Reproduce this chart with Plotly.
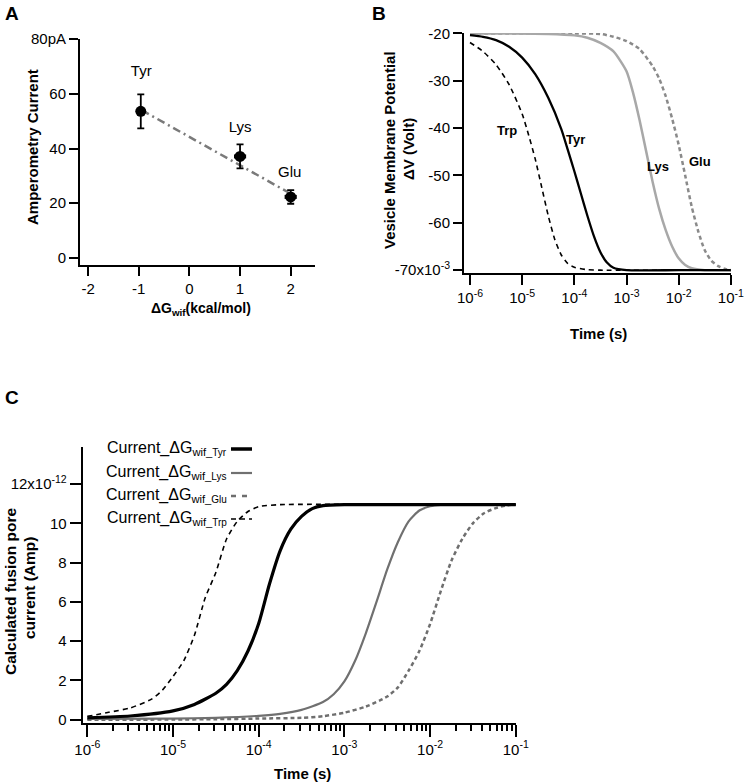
import plotly.graph_objects as go

W, H = 744, 784
FONT = "Arial, Liberation Sans, sans-serif"


def px(x):
    return x / W


def py(y):
    return 1 - y / H


# ---------------- Panel A data ----------------
amino = ["Tyr", "Lys", "Glu"]
dG = [-0.96, 1.0, 2.0]
amp = [53.6, 37.1, 22.3]
amp_err = [6.2, 4.4, 2.5]
dG_err = [0.0, 0.12, 0.12]
fit_x = [-0.94, 1.95]
fit_y = [54.0, 24.0]
label_x = [-0.95, 1.0, 1.98]
label_y = [68.0, 47.4, 31.1]

# ---------------- Panel B data (log10 time, potential x10^-3 V) ----------------
tyrB_logt = [-6.0, -5.75, -5.5, -5.25, -5.0, -4.75, -4.5, -4.25, -4.125, -4.0, -3.875, -3.75, -3.625, -3.5, -3.375, -3.25, -3.0, -2.0, -1.0]
tyrB_v = [-20.35, -20.7, -21.4, -22.8, -25.1, -28.6, -33.6, -40.2, -44.6, -49.1, -53.8, -58.5, -62.8, -66.2, -68.4, -69.5, -70.0, -70.0, -70.0]

trpB_logt = [-6.0, -5.75, -5.5, -5.25, -5.0, -4.875, -4.75, -4.625, -4.5, -4.375, -4.25, -4.125, -4.0, -3.75, -3.5, -2.0, -1.0]
trpB_v = [-21.9, -23.8, -26.6, -30.8, -37.0, -41.5, -46.5, -52.5, -58.5, -63.5, -66.8, -68.6, -69.4, -69.9, -70.0, -70.0, -70.0]

lysB_logt = [-6.0, -4.5, -4.0, -3.75, -3.5, -3.25, -3.0, -2.875, -2.75, -2.625, -2.5, -2.375, -2.25, -2.125, -2.0, -1.875, -1.75, -1.5, -1.0]
lysB_v = [-20.0, -20.1, -20.4, -20.9, -22.0, -23.8, -28.0, -32.5, -38.3, -44.8, -51.3, -57.0, -61.5, -65.0, -67.5, -68.9, -69.6, -70.0, -70.0]

gluB_logt = [-6.0, -4.0, -3.5, -3.25, -3.0, -2.75, -2.5, -2.375, -2.25, -2.125, -2.0, -1.875, -1.75, -1.625, -1.5, -1.375, -1.25, -1.125, -1.0]
gluB_v = [-20.0, -20.0, -20.1, -20.7, -21.6, -23.3, -26.9, -29.5, -33.2, -38.0, -43.5, -50.0, -56.6, -61.8, -65.8, -68.0, -69.1, -69.7, -70.0]

labelsB = ["Trp", "Tyr", "Lys", "Glu"]
labelsB_logx = [-5.30, -3.98, -2.39, -1.585]
labelsB_y = [-40.4, -42.5, -48.2, -47.1]

# ---------------- Panel C data (log10 time, current x10^-12 A) ----------------
tyrC_logt = [-6.0, -5.5, -5.0, -4.75, -4.5, -4.375, -4.25, -4.125, -4.0, -3.875, -3.75, -3.625, -3.5, -3.375, -3.25, -3.0, -2.0, -1.0]
tyrC_v = [0.10, 0.19, 0.45, 0.78, 1.35, 1.8, 2.5, 3.5, 4.9, 6.9, 8.6, 9.7, 10.35, 10.75, 10.9, 10.95, 10.95, 10.95]

trpC_logt = [-6.0, -5.75, -5.5, -5.25, -5.125, -5.0, -4.875, -4.75, -4.625, -4.5, -4.375, -4.25, -4.125, -4.0, -3.75, -2.0, -1.0]
trpC_v = [0.17, 0.38, 0.6, 1.05, 1.5, 2.2, 3.0, 4.3, 6.2, 7.5, 9.2, 10.1, 10.6, 10.85, 10.95, 10.95, 10.95]

lysC_logt = [-6.0, -5.0, -4.5, -4.0, -3.75, -3.5, -3.25, -3.125, -3.0, -2.875, -2.75, -2.625, -2.5, -2.375, -2.25, -2.125, -2.0, -1.875, -1.5, -1.0]
lysC_v = [0.04, 0.06, 0.1, 0.2, 0.3, 0.5, 0.9, 1.3, 1.95, 3.0, 4.4, 6.0, 7.65, 9.05, 10.1, 10.65, 10.87, 10.94, 10.95, 10.95]

gluC_logt = [-6.0, -5.0, -4.5, -4.0, -3.5, -3.25, -3.0, -2.75, -2.5, -2.375, -2.25, -2.125, -2.0, -1.875, -1.75, -1.625, -1.5, -1.375, -1.25, -1.125, -1.0]
gluC_v = [0.0, 0.01, 0.03, 0.06, 0.1, 0.18, 0.36, 0.67, 1.18, 1.65, 2.5, 3.5, 4.87, 6.55, 8.1, 9.2, 10.0, 10.5, 10.75, 10.9, 10.96]

legend_names = ["Tyr", "Lys", "Glu", "Trp"]

fig = go.Figure()

# ---------- Panel A traces ----------
fig.add_trace(go.Scatter(
    x=fit_x, y=fit_y, mode="lines", xaxis="x", yaxis="y",
    line=dict(color="#7a7a7a", width=2.5, dash="8px,4px,2px,4px"), showlegend=False))
fig.add_trace(go.Scatter(
    x=dG, y=amp, mode="markers", xaxis="x", yaxis="y",
    marker=dict(color="black", size=11, symbol="circle"),
    error_y=dict(type="data", array=amp_err, color="black", thickness=1.8, width=3.5),
    error_x=dict(type="data", array=dG_err, color="black", thickness=4, width=0),
    showlegend=False))
fig.add_trace(go.Scatter(
    x=label_x, y=label_y, mode="text", text=amino, xaxis="x", yaxis="y",
    textfont=dict(family=FONT, size=15, color="black"), showlegend=False))


# ---------- Panel B traces ----------
def tpow(lst):
    return [10 ** v for v in lst]


fig.add_trace(go.Scatter(x=tpow(gluB_logt), y=gluB_v, mode="lines", xaxis="x2", yaxis="y2",
                         line=dict(color="#8a8a8a", width=2.5, dash="4px,3px", shape="spline", smoothing=0.6),
                         showlegend=False))
fig.add_trace(go.Scatter(x=tpow(lysB_logt), y=lysB_v, mode="lines", xaxis="x2", yaxis="y2",
                         line=dict(color="#a8a8a8", width=2.5, shape="spline", smoothing=0.6),
                         showlegend=False))
fig.add_trace(go.Scatter(x=tpow(trpB_logt), y=trpB_v, mode="lines", xaxis="x2", yaxis="y2",
                         line=dict(color="black", width=1.6, dash="5px,4px", shape="spline", smoothing=0.6),
                         showlegend=False))
fig.add_trace(go.Scatter(x=tpow(tyrB_logt), y=tyrB_v, mode="lines", xaxis="x2", yaxis="y2",
                         line=dict(color="black", width=2.3, shape="spline", smoothing=0.6),
                         showlegend=False))

# ---------- Panel C traces ----------
fig.add_trace(go.Scatter(x=tpow(gluC_logt), y=gluC_v, mode="lines", xaxis="x3", yaxis="y3",
                         line=dict(color="#6e6e6e", width=2.5, dash="4px,3px", shape="spline", smoothing=0.6),
                         showlegend=False))
fig.add_trace(go.Scatter(x=tpow(lysC_logt), y=lysC_v, mode="lines", xaxis="x3", yaxis="y3",
                         line=dict(color="#707070", width=2.2, shape="spline", smoothing=0.6),
                         showlegend=False))
fig.add_trace(go.Scatter(x=tpow(trpC_logt), y=trpC_v, mode="lines", xaxis="x3", yaxis="y3",
                         line=dict(color="black", width=1.6, dash="5px,4px", shape="spline", smoothing=0.6),
                         showlegend=False))
fig.add_trace(go.Scatter(x=tpow(tyrC_logt), y=tyrC_v, mode="lines", xaxis="x3", yaxis="y3",
                         line=dict(color="black", width=3.2, shape="spline", smoothing=0.6),
                         showlegend=False))

axis_common = dict(showline=True, linecolor="black", linewidth=2, ticks="outside",
                   tickcolor="black", tickwidth=1.8, showgrid=False, zeroline=False,
                   mirror=False, automargin=False, ticklabeloverflow="allow",
                   tickfont=dict(family=FONT, size=15, color="black"))

# Panel A axes
xA_ticks = [-2, -1, 0, 1, 2]
yA_ticks = [0, 20, 40, 60, 80]
fig.update_layout(
    xaxis=dict(domain=[px(80), px(315)], anchor="y", range=[-2.16, 2.48],
               tickvals=xA_ticks, ticktext=["-2", "-1", "0", "1", "2"], ticklen=9, **axis_common),
    yaxis=dict(domain=[py(265), py(39)], anchor="x", range=[-2.6, 80.05],
               tickvals=yA_ticks, ticktext=["0", "20", "40", "60", "80pA"], ticklen=9, **axis_common),
)

# Panel B axes
xB_ticks = [1e-6, 1e-5, 1e-4, 1e-3, 1e-2, 1e-1]
xB_text = ["10<sup>-6</sup>", "10<sup>-5</sup>", "10<sup>-4</sup>", "10<sup>-3</sup>", "10<sup>-2</sup>", "10<sup>-1</sup>"]
yB_ticks = [-70, -60, -50, -40, -30, -20]
yB_text = ["-70x10<sup>-3</sup>", "-60", "-50", "-40", "-30", "-20"]
fig.update_layout(
    xaxis2=dict(domain=[px(464), px(731)], anchor="y2", type="log", range=[-6.115, -0.997],
                tickvals=xB_ticks, ticktext=xB_text, ticklen=10, **axis_common),
    yaxis2=dict(domain=[py(273), py(33)], anchor="x2", range=[-70.6, -19.9],
                tickvals=yB_ticks, ticktext=yB_text, ticklen=9, **axis_common),
)

# Panel C axes
minorC = [m * 10 ** e for e in range(-6, -1) for m in range(2, 10)]
yC_ticks = [0, 2, 4, 6, 8, 10, 12]
yC_text = ["0", "2", "4", "6", "8", "10", "12x10<sup>-12</sup>"]
fig.update_layout(
    xaxis3=dict(domain=[px(82.7), px(516)], anchor="y3", type="log", range=[-6.054, -0.997],
                tickvals=xB_ticks, ticktext=xB_text, ticklen=12,
                minor=dict(tickmode="array", tickvals=minorC, ticks="outside", ticklen=6,
                           tickwidth=1.5, tickcolor="black", showgrid=False),
                **axis_common),
    yaxis3=dict(domain=[py(722.7), py(446.7)], anchor="x3", range=[-0.15, 13.9],
                tickvals=yC_ticks, ticktext=yC_text, ticklen=11, **axis_common),
)

ann = []


def add_text(x, y, text, size=15, bold=False, angle=0, xanchor="center", yanchor="middle"):
    if bold:
        text = "<b>" + text + "</b>"
    ann.append(dict(x=px(x), y=py(y), xref="paper", yref="paper", text=text, showarrow=False,
                    textangle=angle, xanchor=xanchor, yanchor=yanchor,
                    font=dict(family=FONT, size=size, color="black")))


# Panel letters
add_text(3, 13, "A", size=19, bold=True, xanchor="left")
add_text(370, 13, "B", size=19, bold=True, xanchor="left")
add_text(3, 397, "C", size=19, bold=True, xanchor="left")

# Panel A titles
add_text(32, 147, "Amperometry Current", size=15, bold=True, angle=-90)
add_text(201, 309, "ΔG<sub>wif</sub>(kcal/mol)", size=14, bold=True)

# Panel B titles
add_text(389, 150, "Vesicle Membrane Potential", size=15, bold=True, angle=-90)
add_text(409, 149, "ΔV (Volt)", size=15, bold=True, angle=-90)
add_text(598, 333, "Time (s)", size=15, bold=True)

# Panel B curve labels
for name, lx, ly in zip(labelsB, labelsB_logx, labelsB_y):
    ann.append(dict(x=lx, y=ly, xref="x2", yref="y2", text="<b>" + name + "</b>", showarrow=False,
                    font=dict(family=FONT, size=13, color="black")))

# Panel C titles
add_text(10, 592, "Calculated fusion pore", size=15.5, bold=True, angle=-90)
add_text(29, 588, "current (Amp)", size=15.5, bold=True, angle=-90)
add_text(302, 773, "Time (s)", size=15, bold=True)

# Panel C legend (text with line sample on the right)
legend_rows_y = [448, 472, 495, 518]
for name, ly in zip(legend_names, legend_rows_y):
    add_text(229, ly, "Current_ΔG<sub>wif_<span style='font-size:10px'>" + name + "</span></sub>",
             size=16, xanchor="right")

shapes = []
legend_styles = [
    dict(color="black", width=3.5, dash="solid"),
    dict(color="#707070", width=2.2, dash="solid"),
    dict(color="#6e6e6e", width=2.5, dash="5px,6px"),
    dict(color="black", width=1.6, dash="5px,4px"),
]
for ly, st in zip(legend_rows_y, legend_styles):
    shapes.append(dict(type="line", xref="paper", yref="paper", x0=px(231), x1=px(252),
                       y0=py(ly + 1), y1=py(ly + 1), line=st))

fig.update_layout(
    width=W, height=H, autosize=False,
    margin=dict(l=0, r=0, t=0, b=0),
    paper_bgcolor="white", plot_bgcolor="white",
    annotations=ann, shapes=shapes, showlegend=False,
    font=dict(family=FONT, color="black"),
)

fig.write_html("out.html", config={"displayModeBar": False},
               post_script="document.body.style.margin='0px';")
